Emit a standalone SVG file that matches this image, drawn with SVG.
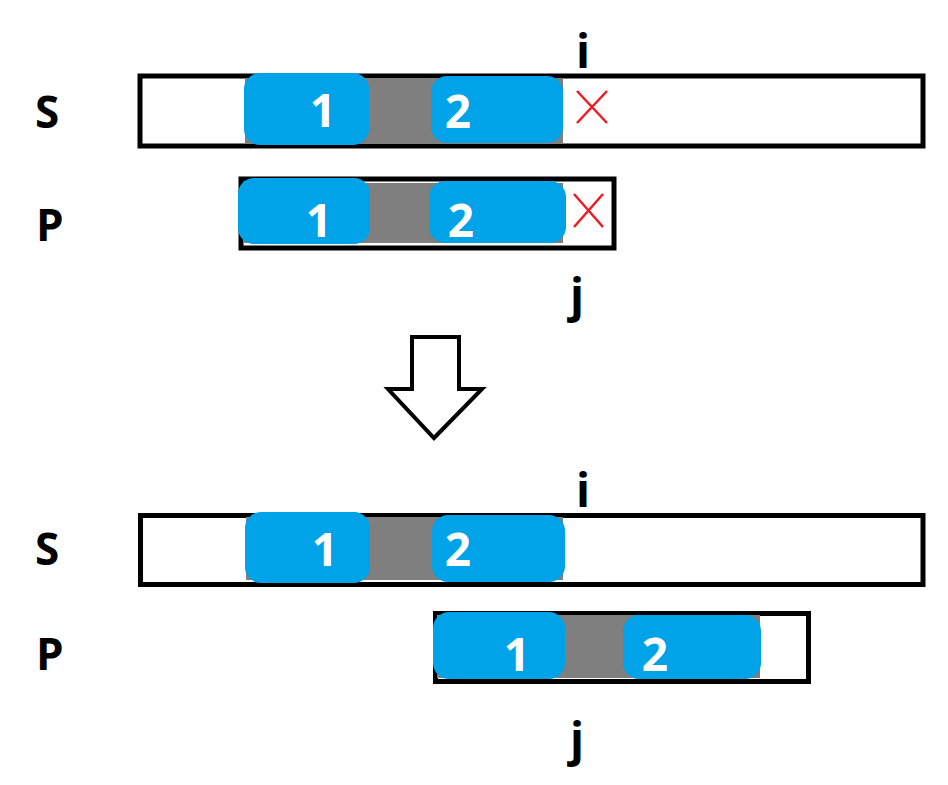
<svg xmlns="http://www.w3.org/2000/svg" width="948" height="785" viewBox="0 0 948 785">
<style>
.box{fill:#fff;stroke:#000;stroke-width:5}
.grey{fill:#7f7f7f}
.blue{fill:#00a2e8}
.num{font-family:"Open Sans","Liberation Sans",sans-serif;font-weight:bold;font-size:46px;fill:#fff;text-anchor:middle}
.lbl{font-family:"Open Sans","Liberation Sans",sans-serif;font-weight:bold;font-size:44px;fill:#000}
.idx{font-family:"Open Sans","Liberation Sans",sans-serif;font-weight:bold;font-size:46px;fill:#000;text-anchor:middle}
.x{stroke:#ed1c24;stroke-width:2.5;fill:none}
</style>
<rect width="948" height="785" fill="#fff"/>
<g id="S1">
<text class="lbl" x="35" y="128">S</text>
<rect class="box" x="140" y="76" width="783" height="70"/>
<rect class="grey" x="245" y="78" width="318" height="65"/>
<rect class="blue" x="244" y="73" width="125" height="72" rx="16"/>
<rect class="blue" x="431" y="76" width="132" height="67" rx="16"/>
<text class="num" x="323" y="127">1</text>
<text class="num" x="458" y="128">2</text>
<path class="x" d="M577 91L607 123M607 91L577 123"/>
<text class="idx" x="583" y="68">i</text>
</g>
<g id="P1">
<text class="lbl" x="36" y="241">P</text>
<rect class="box" x="241" y="179" width="373" height="69"/>
<rect class="grey" x="243" y="183" width="320" height="60"/>
<rect class="blue" x="238" y="178" width="132" height="66" rx="16"/>
<rect class="blue" x="429" y="181" width="137" height="62" rx="16"/>
<text class="num" x="319" y="237">1</text>
<text class="num" x="461" y="237">2</text>
<path class="x" d="M574 194L603 227M603 194L574 227"/>
<text class="idx" x="577" y="312">j</text>
</g>
<g id="arrow">
<path d="M412 337H459V389H482L434 438L388 389H412Z" fill="#fff" stroke="#000" stroke-width="4" stroke-linejoin="miter"/>
</g>
<g id="S2">
<text class="lbl" x="35" y="565">S</text>
<rect class="box" x="140.5" y="515.5" width="782.5" height="69"/>
<rect class="grey" x="246" y="517" width="317" height="63"/>
<rect class="blue" x="245" y="512" width="125" height="71" rx="16"/>
<rect class="blue" x="432" y="515" width="133" height="67" rx="16"/>
<text class="num" x="325" y="566">1</text>
<text class="num" x="458" y="566">2</text>
<text class="idx" x="583" y="507">i</text>
</g>
<g id="P2">
<text class="lbl" x="36" y="670">P</text>
<rect class="box" x="435.5" y="613.5" width="373" height="68"/>
<rect class="grey" x="437" y="615" width="323" height="63"/>
<rect class="blue" x="433" y="612" width="132" height="67" rx="16"/>
<rect class="blue" x="623" y="615" width="138" height="64" rx="16"/>
<text class="num" x="517" y="671">1</text>
<text class="num" x="655" y="671">2</text>
<text class="idx" x="577" y="756">j</text>
</g>
</svg>
